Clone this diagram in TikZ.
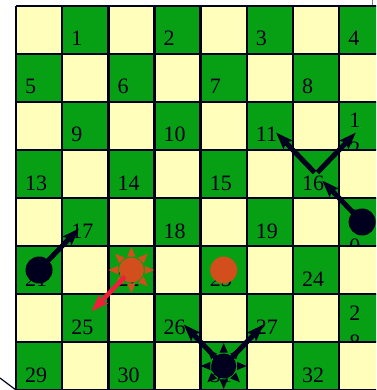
\documentclass[tikz,border=0pt]{standalone}
\usepackage{fontspec}
\setmainfont{Liberation Serif}
\usepackage{tikz}
\usetikzlibrary{arrows.meta}
\definecolor{boardgreen}{HTML}{079F13}
\definecolor{boardcream}{HTML}{FFFEBB}
\definecolor{gridnavy}{HTML}{00001E}
\definecolor{manorange}{HTML}{D24E1C}
\definecolor{movered}{HTML}{EE1F3B}

\begin{document}
\begin{tikzpicture}[
  x=1pt, y=-1pt,
  >={Stealth[length=17pt,width=12pt,inset=3pt]},
  darksq/.style={fill=boardgreen},
  lightsq/.style={fill=boardcream},
  gridline/.style={draw=gridnavy, line width=2.5pt},
  num/.style={font=\fontsize{22}{26}\selectfont, text=gridnavy,
              anchor=base west, inner sep=0pt},
  move/.style={->, line width=5pt, draw=gridnavy, shorten >=9pt},
  redmove/.style={move, draw=movered, line width=4.5pt, shorten <=9pt},
  man/.style={circle, inner sep=0pt, minimum size=27pt},
  sun/.pic={
    \foreach \a in {0,45,...,315}
      \fill (\a:23) -- (\a+17:14) -- (\a-17:14) -- cycle;
    \fill (0,0) circle (12.5);
  }
]

\useasboundingbox (0,0) rectangle (376,390);
\clip (0,0) rectangle (376,390);

%% Cells are 46.15 wide and 48 high; each row is drawn over the one above,
%% so the cut-off numbers of the last column are hidden by the next row.
%% ---- squares and numbers -------------------------------------------------
\foreach \r in {0,...,7}{
  \foreach \c in {0,...,7}{
    \pgfmathtruncatemacro\odd{mod(\r+\c,2)}
    \pgfmathsetmacro\xl{16+46.15*\c}
    \pgfmathsetmacro\yt{6+48*\r}
    \ifnum\odd=1
      \pgfmathtruncatemacro\n{4*\r+floor(\c/2)+1}
      \fill[darksq] (\xl,\yt) rectangle ++(46.15,48);
      \coordinate (sq\n) at (\xl+23.07,\yt+24);
      \ifnum\c=7
        \ifnum\n>9
          \pgfmathtruncatemacro\tens{int(\n/10)}
          \pgfmathtruncatemacro\ones{mod(\n,10)}
          \node[num] (num\n a) at (\xl+10,\yt+26) {\tens};
          \node[num] (num\n b) at (\xl+10,\yt+55) {\ones};
        \else
          \node[num] (num\n) at (\xl+9,\yt+40) {\n};
        \fi
      \else
        \node[num] (num\n) at (\xl+9,\yt+40) {\n};
      \fi
    \else
      \fill[lightsq] (\xl,\yt) rectangle ++(46.15,48);
    \fi
  }
}

%% ---- grid ----------------------------------------------------------------
\foreach \c in {0,...,8}
  \draw[gridline] (16+46.15*\c,6) -- (16+46.15*\c,400);
\foreach \r in {0,...,8}
  \draw[gridline] (16,6+48*\r) -- (400,6+48*\r);

\draw[gridnavy, line width=1.2pt] (0,378) -- (16,390);
\draw[gray, line width=1pt] (372,0) -- (372,5);

%% ---- men and moves -------------------------------------------------------
\draw[move] (sq21) -- (sq17);
\node[man, fill=gridnavy] (man21) at (sq21) {};

\draw[move] (sq20) -- (sq16);
\node[man, fill=gridnavy] (man20) at (sq20) {};
\draw[move, shorten <=2pt] (sq16) -- (sq11);
\draw[move, shorten <=2pt] (sq16) -- (sq12);

\node[man, fill=manorange] (man23) at (sq23) {};

\pic[color=manorange] (sun22) at (sq22) {sun};
\draw[redmove] (sq22) -- (sq25);

\draw[move] (sq31) -- (sq26);
\draw[move] (sq31) -- (sq27);
\pic[color=gridnavy] (sun31) at (sq31) {sun};

\end{tikzpicture}
\end{document}
